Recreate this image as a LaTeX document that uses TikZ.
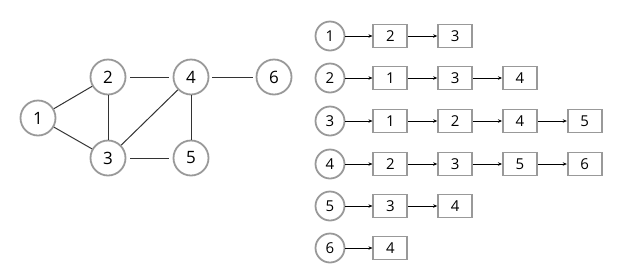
\documentclass[tikz,border=0pt]{standalone}
\usepackage{fontspec}
\setmainfont{Open Sans}
\usetikzlibrary{arrows.meta,positioning}

\begin{document}
\begin{tikzpicture}[
  x=1pt, y=-1pt,
  >={Stealth[length=4pt,width=3.5pt]},
  node distance=27pt,
  every node/.style={font=\fontsize{15}{17}\selectfont},
  vtx/.style={circle, draw=gray!80, line width=1.8pt, minimum size=35pt, inner sep=0pt, font=\fontsize{17}{19}\selectfont},
  head/.style={circle, draw=gray!80, line width=1.8pt, minimum size=29pt, inner sep=0pt},
  cell/.style={draw=gray!80, line width=1.8pt, minimum width=34pt, minimum height=23pt, inner sep=0pt},
  edge/.style={line width=1pt, black!80},
  link/.style={->, line width=0.9pt}
]
\useasboundingbox (0,0) rectangle (639,274);

% graph
\node[vtx] (v1) at (38,118) {1};
\node[vtx] (v2) at (108,77) {2};
\node[vtx] (v4) at (191,77) {4};
\node[vtx] (v6) at (274,77) {6};
\node[vtx] (v3) at (108,158) {3};
\node[vtx] (v5) at (191,158) {5};
\draw[edge] (v1) -- (v2);
\draw[edge] (v1) -- (v3);
\draw[edge] (v2) -- (v3);
\draw[edge] (v3) -- (v4);
\draw[edge] (v4) -- (v5);
\draw[edge, shorten <=4pt, shorten >=4pt] (v2) -- (v4);
\draw[edge, shorten <=4pt, shorten >=4pt] (v3) -- (v5);
\draw[edge, shorten <=3pt, shorten >=3pt] (v4) -- (v6);

% adjacency lists
\node[head] (h1) at (330,36) {1};
\node[cell, right=of h1] (a12) {2};
\node[cell, right=29pt of a12] (a13) {3};
\draw[link] (h1) -- (a12);
\draw[link] (a12) -- (a13);

\node[head] (h2) at (330,78) {2};
\node[cell, right=of h2] (a21) {1};
\node[cell, right=29pt of a21] (a23) {3};
\node[cell, right=29pt of a23] (a24) {4};
\draw[link] (h2) -- (a21);
\draw[link] (a21) -- (a23);
\draw[link] (a23) -- (a24);

\node[head] (h3) at (330,121) {3};
\node[cell, right=of h3] (a31) {1};
\node[cell, right=29pt of a31] (a32) {2};
\node[cell, right=29pt of a32] (a34) {4};
\node[cell, right=29pt of a34] (a35) {5};
\draw[link] (h3) -- (a31);
\draw[link] (a31) -- (a32);
\draw[link] (a32) -- (a34);
\draw[link] (a34) -- (a35);

\node[head] (h4) at (330,164) {4};
\node[cell, right=of h4] (a42) {2};
\node[cell, right=29pt of a42] (a43) {3};
\node[cell, right=29pt of a43] (a45) {5};
\node[cell, right=29pt of a45] (a46) {6};
\draw[link] (h4) -- (a42);
\draw[link] (a42) -- (a43);
\draw[link] (a43) -- (a45);
\draw[link] (a45) -- (a46);

\node[head] (h5) at (330,206) {5};
\node[cell, right=of h5] (a53) {3};
\node[cell, right=29pt of a53] (a54) {4};
\draw[link] (h5) -- (a53);
\draw[link] (a53) -- (a54);

\node[head] (h6) at (330,248) {6};
\node[cell, right=of h6] (a64) {4};
\draw[link] (h6) -- (a64);
\end{tikzpicture}
\end{document}
